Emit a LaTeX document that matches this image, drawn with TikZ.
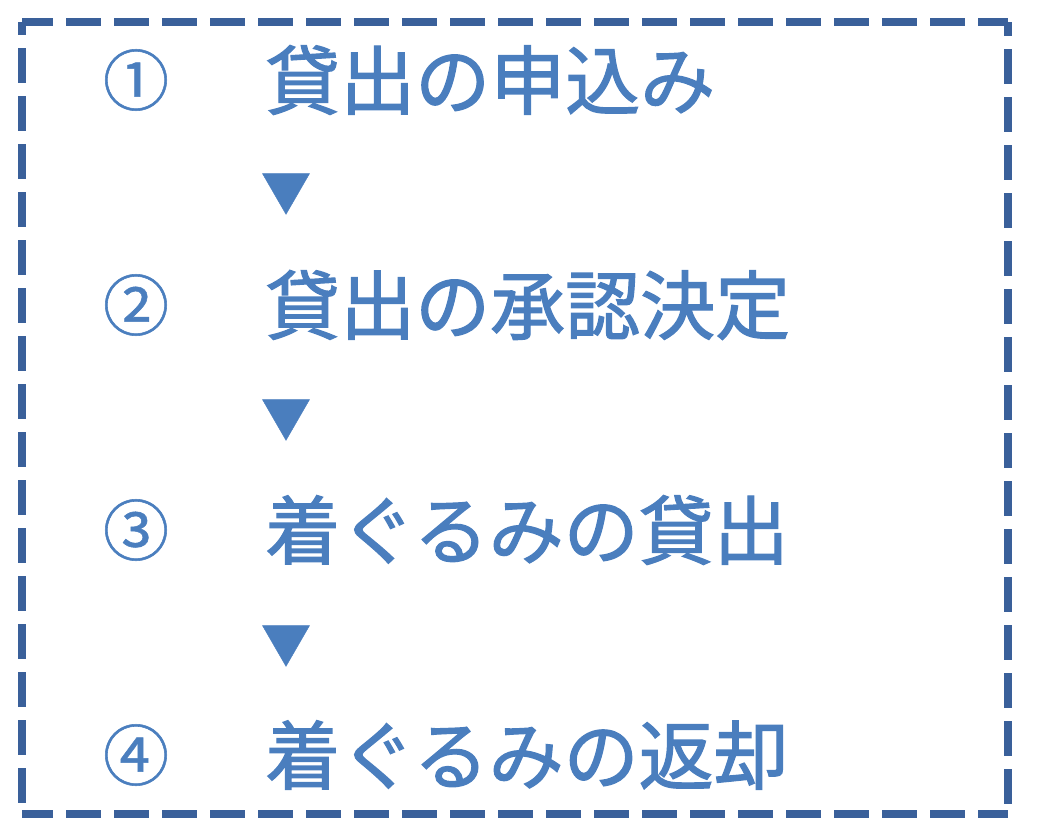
\documentclass[tikz,border=0pt]{standalone}
\usepackage{fontspec}
\newfontfamily\jp[FakeBold=1.6]{Noto Sans CJK JP}
\newfontfamily\jpnum[FakeBold=0.8]{Noto Sans CJK JP}
\definecolor{txtblue}{RGB}{74,126,190}
\definecolor{framecol}{RGB}{58,96,154}
\begin{document}
\begin{tikzpicture}[x=1pt,y=-1pt,
  steplabel/.style={font=\jp\fontsize{75}{75}\selectfont, text=txtblue, inner sep=0pt, anchor=west},
  numlabel/.style={font=\jpnum\fontsize{66}{66}\selectfont, text=txtblue, inner sep=0pt},
  downmark/.style={font=\jpnum\fontsize{50}{50}\selectfont, text=txtblue, inner sep=0pt},
  frameline/.style={draw=framecol, line width=8pt, dash pattern=on 35pt off 13pt}]
\useasboundingbox (0,0) rectangle (1038,833);
\coordinate (tl) at (22,22);
\coordinate (tr) at (1008,22);
\coordinate (bl) at (22,814);
\coordinate (br) at (1008,814);
\draw[frameline, dash phase=4pt] (tl) -- (tr);
\draw[frameline, dash phase=4pt] (bl) -- (br);
\draw[frameline, dash phase=22pt] (tl) -- (bl);
\draw[frameline, dash phase=21pt] (tr) -- (br);
\node[numlabel] (n1) at (136,80) {①};
\node[steplabel] (t1) at (265,80) {貸出の申込み};
\node[downmark] (a1) at (286,194) {▼};
\node[numlabel] (n2) at (136,305) {②};
\node[steplabel] (t2) at (265,305) {貸出の承認決定};
\node[downmark] (a2) at (286,420) {▼};
\node[numlabel] (n3) at (136,530) {③};
\node[steplabel] (t3) at (265,530) {着ぐるみの貸出};
\node[downmark] (a3) at (286,646) {▼};
\node[numlabel] (n4) at (136,755) {④};
\node[steplabel] (t4) at (265,755) {着ぐるみの返却};
\end{tikzpicture}
\end{document}
